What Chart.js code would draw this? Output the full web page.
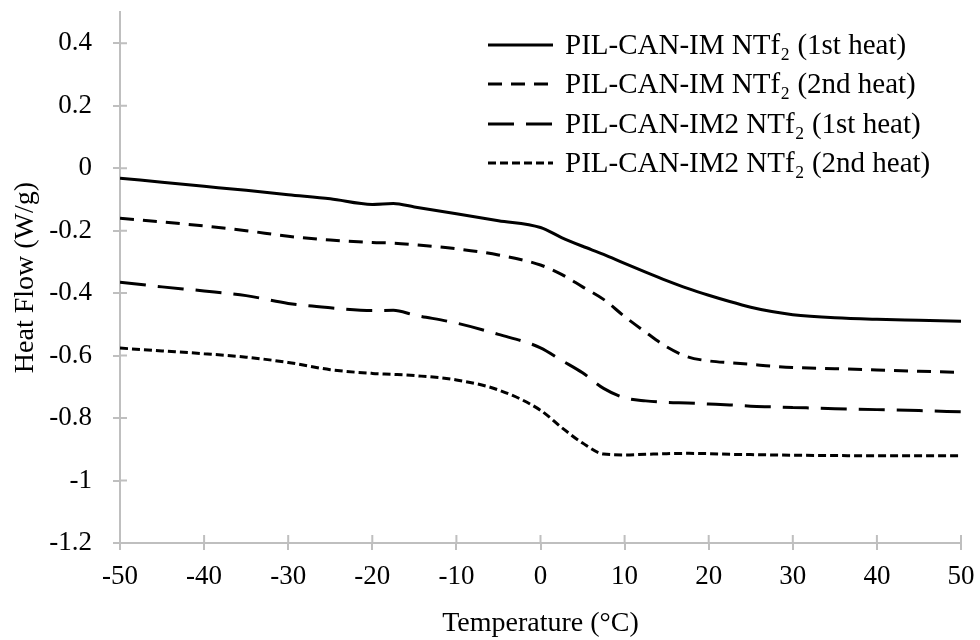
<!DOCTYPE html>
<html>
<head>
<meta charset="utf-8">
<script src="https://cdn.jsdelivr.net/npm/chart.js@4.4.1/dist/chart.umd.min.js"></script>
<style>
  html, body { margin: 0; padding: 0; background: #fff; }
  canvas { display: block; }
</style>
</head>
<body>
<canvas id="myChart" width="980" height="640"></canvas>
<script>
// temperature points (°C), shared by all four curves
var temps = [-50, -45, -40, -35, -30, -25, -20, -17.5, -15, -10, -5, 0, 2.5, 5, 7.5, 10, 12.5, 15, 17.5, 20, 22.5, 25, 27.5, 30, 35, 40, 45, 50];

// heat flow (W/g)
var im1st = [-0.032, -0.045, -0.058, -0.071, -0.085, -0.098, -0.116, -0.113, -0.124, -0.146, -0.168, -0.19, -0.222, -0.25, -0.276, -0.305, -0.333, -0.36, -0.385, -0.407, -0.427, -0.445, -0.459, -0.469, -0.479, -0.484, -0.487, -0.49];
var im2nd = [-0.16, -0.172, -0.185, -0.2, -0.218, -0.23, -0.238, -0.24, -0.245, -0.258, -0.278, -0.31, -0.34, -0.38, -0.42, -0.475, -0.525, -0.572, -0.604, -0.617, -0.623, -0.628, -0.634, -0.638, -0.642, -0.646, -0.65, -0.654];
var im2_1st = [-0.365, -0.38, -0.393, -0.408, -0.433, -0.447, -0.456, -0.455, -0.47, -0.496, -0.532, -0.575, -0.615, -0.655, -0.705, -0.735, -0.745, -0.75, -0.752, -0.755, -0.758, -0.762, -0.764, -0.766, -0.77, -0.773, -0.776, -0.78];
var im2_2nd = [-0.576, -0.585, -0.594, -0.605, -0.622, -0.645, -0.657, -0.66, -0.664, -0.678, -0.71, -0.775, -0.83, -0.88, -0.915, -0.918, -0.916, -0.914, -0.913, -0.914, -0.916, -0.917, -0.918, -0.919, -0.92, -0.921, -0.921, -0.921];

var seriesNames = ['PIL-CAN-IM NTf\u2082 (1st heat)', 'PIL-CAN-IM NTf\u2082 (2nd heat)', 'PIL-CAN-IM2 NTf\u2082 (1st heat)', 'PIL-CAN-IM2 NTf\u2082 (2nd heat)'];
var yTicks = [-1.2, -1, -0.8, -0.6, -0.4, -0.2, 0, 0.2, 0.4];

var FONT = 'Liberation Serif';
var AXIS = '#bfbfbf';

function pts(vals) {
    return temps.map(function (t, i) { return { x: t, y: vals[i] }; });
}

function line(label, vals, dash) {
    return {
        label: label,
        data: pts(vals),
        borderColor: '#000',
        borderWidth: 3,
        borderDash: dash,
        pointRadius: 0,
        fill: false,
        cubicInterpolationMode: 'monotone'
    };
}

function noPad(s) {
    s.paddingTop = 0;
    s.paddingBottom = 0;
    s.paddingLeft = 0;
    s.paddingRight = 0;
}

// tick marks that cross the axis line (inner half)
var innerTicks = {
    id: 'innerTicks',
    beforeDatasetsDraw: function (chart) {
        var c = chart.ctx, a = chart.chartArea;
        c.save();
        c.strokeStyle = AXIS;
        c.lineWidth = 2;
        c.beginPath();
        chart.scales.x.ticks.forEach(function (t) {
            var px = chart.scales.x.getPixelForValue(t.value);
            c.moveTo(px, a.bottom);
            c.lineTo(px, a.bottom - 8);
        });
        chart.scales.y.ticks.forEach(function (t) {
            var py = chart.scales.y.getPixelForValue(t.value);
            c.moveTo(a.left, py);
            c.lineTo(a.left + 7, py);
        });
        c.stroke();
        c.restore();
    }
};

// legend in the top right corner of the plot
var cornerLegend = {
    id: 'cornerLegend',
    afterDraw: function (chart) {
        var c = chart.ctx;
        var rows = [45, 84, 124, 163];
        c.save();
        c.font = '29px "' + FONT + '"';
        c.fillStyle = '#000';
        c.textBaseline = 'middle';
        chart.data.datasets.forEach(function (ds, i) {
            c.strokeStyle = '#000';
            c.lineWidth = 3;
            c.setLineDash(ds.borderDash || []);
            c.beginPath();
            c.moveTo(488, rows[i]);
            c.lineTo(553, rows[i]);
            c.stroke();
            c.setLineDash([]);
            c.fillText(ds.label, 565, rows[i] + 1);
        });
        c.restore();
    }
};

var ctx = document.getElementById('myChart').getContext('2d');
var chart = new Chart(ctx, {
    type: 'line',
    data: {
        datasets: [
            line(seriesNames[0], im1st, []),
            line(seriesNames[1], im2nd, [14, 9]),
            line(seriesNames[2], im2_1st, [26, 12]),
            line(seriesNames[3], im2_2nd, [8, 4])
        ]
    },
    options: {
        responsive: false,
        animation: false,
        devicePixelRatio: 1,
        layout: { padding: { top: 12, right: 19, left: 0, bottom: 0 } },
        plugins: {
            legend: { display: false },
            tooltip: { enabled: false }
        },
        scales: {
            x: {
                type: 'linear',
                min: -50,
                max: 50,
                afterFit: function (s) { s.height = 97; noPad(s); },
                grid: { drawOnChartArea: false, color: AXIS, lineWidth: 2, tickLength: 7 },
                border: { color: AXIS, width: 2 },
                ticks: {
                    stepSize: 10,
                    padding: 11,
                    color: '#000',
                    font: { family: FONT, size: 27 },
                    maxRotation: 0
                },
                title: {
                    display: true,
                    text: 'Temperature (°C)',
                    color: '#000',
                    font: { family: FONT, size: 28 },
                    padding: { top: 0, bottom: 0 }
                }
            },
            y: {
                min: -1.2,
                max: 0.5,
                afterFit: function (s) { s.width = 120; noPad(s); },
                afterBuildTicks: function (s) {
                    s.ticks = yTicks.map(function (v) { return { value: v }; });
                },
                grid: { drawOnChartArea: false, color: AXIS, lineWidth: 2, tickLength: 7 },
                border: { color: AXIS, width: 2 },
                ticks: {
                    padding: 21,
                    color: '#000',
                    font: { family: FONT, size: 27 },
                    callback: function (v) { return String(parseFloat(Number(v).toFixed(1))); }
                },
                title: {
                    display: true,
                    text: 'Heat Flow (W/g)',
                    color: '#000',
                    font: { family: FONT, size: 28 },
                    padding: { top: 9, bottom: 0 }
                }
            }
        }
    },
    plugins: [innerTicks, cornerLegend]
});
</script>
</body>
</html>
